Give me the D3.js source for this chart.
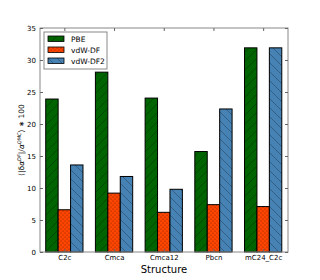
<!DOCTYPE html>
<html>
<head>
<meta charset="utf-8">
<script src="https://d3js.org/d3.v7.min.js"></script>
<style>
body { margin: 0; background: #fff; }
svg { display: block; font-family: "DejaVu Sans", sans-serif; }
</style>
</head>
<body>
<svg id="chart" width="320" height="280"></svg>
<script>
const structures = ["C2c", "Cmca", "Cmca12", "Pbcn", "mC24_C2c"];
const pbe = [23.9, 28.1, 24.05, 15.7, 31.9];
const vdwdf = [6.6, 9.2, 6.2, 7.4, 7.1];
const vdwdf2 = [13.6, 11.8, 9.8, 22.35, 31.9];
const seriesNames = ["PBE", "vdW-DF", "vdW-DF2"];
const yTicks = [0, 5, 10, 15, 20, 25, 30, 35];

const series = [
  {name: seriesNames[0], values: pbe, color: "#006400", hatch: "hSlash"},
  {name: seriesNames[1], values: vdwdf, color: "#ff4500", hatch: "hDots"},
  {name: seriesNames[2], values: vdwdf2, color: "#4682b4", hatch: "hBack"}
];

const svg = d3.select("#chart");
const m = {left: 40, right: 32, top: 28, bottom: 28};
const W = 320, H = 280;

const x = d3.scaleLinear([-0.115, structures.length - 0.125], [m.left, W - m.right]);
const y = d3.scaleLinear([0, 35], [H - m.bottom, m.top]);
const bw = 0.25;

// hatch patterns
const defs = svg.append("defs");
function linePattern(id, dir) {
  const p = defs.append("pattern").attr("id", id)
    .attr("patternUnits", "userSpaceOnUse").attr("width", 9).attr("height", 9);
  if (dir > 0) {
    p.append("path").attr("d", "M0,9 L9,0 M-2,2 L2,-2 M7,11 L11,7");
  } else {
    p.append("path").attr("d", "M0,0 L9,9 M-2,7 L2,11 M7,-2 L11,2");
  }
  p.select("path").attr("stroke", "#000").attr("stroke-opacity", 0.45).attr("stroke-width", 0.6);
}
linePattern("hSlash", 1);
linePattern("hBack", -1);
const dp = defs.append("pattern").attr("id", "hDots")
  .attr("patternUnits", "userSpaceOnUse").attr("width", 4).attr("height", 4);
dp.append("circle").attr("cx", 1).attr("cy", 1).attr("r", 0.5).attr("fill", "#000").attr("fill-opacity", 0.6);
dp.append("circle").attr("cx", 3).attr("cy", 3).attr("r", 0.5).attr("fill", "#000").attr("fill-opacity", 0.6);

// bars
series.forEach((s, k) => {
  const g = svg.append("g");
  g.selectAll("rect.f").data(s.values).join("rect")
    .attr("x", (d, i) => x(i + k * bw))
    .attr("width", x(bw) - x(0))
    .attr("y", d => y(d))
    .attr("height", d => y(0) - y(d))
    .attr("fill", s.color);
  g.selectAll("rect.h").data(s.values).join("rect")
    .attr("x", (d, i) => x(i + k * bw))
    .attr("width", x(bw) - x(0))
    .attr("y", d => y(d))
    .attr("height", d => y(0) - y(d))
    .attr("fill", "url(#" + s.hatch + ")")
    .attr("stroke", "#000").attr("stroke-width", 1);
});

// frame
svg.append("rect")
  .attr("x", m.left).attr("y", m.top)
  .attr("width", W - m.left - m.right).attr("height", H - m.top - m.bottom)
  .attr("fill", "none").attr("stroke", "#888").attr("stroke-width", 1);

// axes with inward ticks
const fs = 7;
const yAxis = svg.append("g").attr("transform", `translate(${m.left},0)`)
  .call(d3.axisLeft(y).tickValues(yTicks).tickSize(-3).tickPadding(4));
const yAxisR = svg.append("g").attr("transform", `translate(${W - m.right},0)`)
  .call(d3.axisRight(y).tickValues(yTicks).tickSize(-3).tickFormat(""));
const centers = structures.map((d, i) => i + 1.5 * bw);
const xAxis = svg.append("g").attr("transform", `translate(0,${H - m.bottom})`)
  .call(d3.axisBottom(x).tickValues(centers).tickSize(-3).tickPadding(3)
    .tickFormat((d, i) => structures[i]));
const xAxisT = svg.append("g").attr("transform", `translate(0,${m.top})`)
  .call(d3.axisTop(x).tickValues(centers).tickSize(-3).tickFormat(""));
[yAxis, yAxisR, xAxis, xAxisT].forEach(a => {
  a.select(".domain").remove();
  a.selectAll("line").attr("stroke", "#666");
  a.selectAll("text").attr("font-size", fs).attr("fill", "#000")
    .attr("font-family", "'DejaVu Sans', sans-serif");
});

// x label
svg.append("text").attr("x", (m.left + W - m.right) / 2).attr("y", 273)
  .attr("text-anchor", "middle").attr("font-size", 10).text("Structure");

// y label (math-like)
const yl = svg.append("text")
  .attr("transform", `translate(24,${(m.top + H - m.bottom) / 2}) rotate(-90)`)
  .attr("text-anchor", "middle").attr("font-size", 7.5)
  .attr("font-family", "'DejaVu Sans', sans-serif");
yl.append("tspan").text("⟨|δ");
yl.append("tspan").attr("font-style", "italic").text("α");
yl.append("tspan").attr("font-size", 5).attr("dy", -3).attr("font-style", "italic").text("DF");
yl.append("tspan").attr("dy", 3).text("|/");
yl.append("tspan").attr("font-style", "italic").text("α");
yl.append("tspan").attr("font-size", 5).attr("dy", -3).attr("font-style", "italic").text("QMC");
yl.append("tspan").attr("dy", 3).text("⟩ ∗ 100");

// legend
const lg = svg.append("g").attr("transform", "translate(44,32)");
lg.append("rect").attr("width", 63).attr("height", 37)
  .attr("fill", "#fff").attr("stroke", "#888").attr("stroke-width", 1);
series.forEach((s, k) => {
  const row = lg.append("g").attr("transform", `translate(4,${4 + k * 11})`);
  row.append("rect").attr("width", 16).attr("height", 5.5).attr("fill", s.color);
  row.append("rect").attr("width", 16).attr("height", 5.5)
    .attr("fill", "url(#" + s.hatch + ")").attr("stroke", "#000").attr("stroke-width", 0.8);
  row.append("text").attr("x", 23).attr("y", 5.5).attr("font-size", 7.5).text(s.name);
});
</script>
</body>
</html>
